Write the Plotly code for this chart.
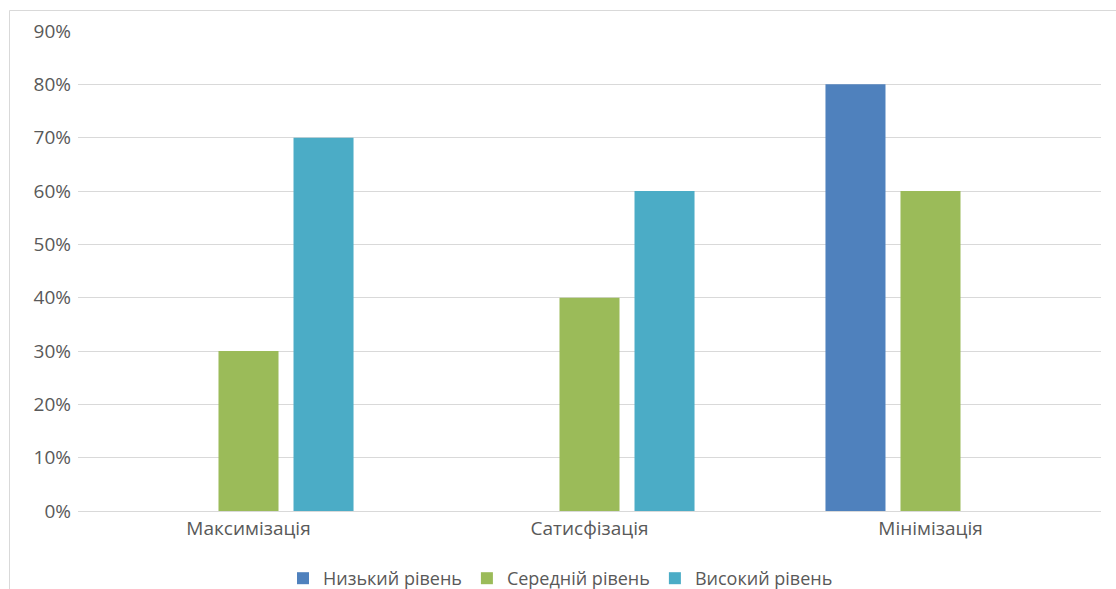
import plotly.graph_objects as go

categories = ["Максимізація", "Сатисфізація", "Мінімізація"]
series_names = ["Низький рівень", "Середній рівень", "Високий рівень"]
low_level = [0.0, 0.0, 0.80]
mid_level = [0.30, 0.40, 0.60]
high_level = [0.70, 0.60, 0.0]
colors = ["#4F81BD", "#9BBB59", "#4BACC6"]
y_ticks = [0.0, 0.1, 0.2, 0.3, 0.4, 0.5, 0.6, 0.7, 0.8, 0.9]

W, H = 1116, 589
L, R, T, B = 78, 15, 31, 78
pw, ph = W - L - R, H - T - B

font_family = "Open Sans, DejaVu Sans, sans-serif"
text_color = "#595959"
grid_color = "#D9D9D9"
fs = 19

fig = go.Figure()
for name, vals, col in zip(series_names, [low_level, mid_level, high_level], colors):
    fig.add_trace(go.Bar(x=categories, y=vals, name=name, marker=dict(color=col, line=dict(width=0))))

def px_x(p):
    return (p - L) / pw

def px_y(p):
    return (H - B - p) / ph

# chart-area border
fig.add_shape(type="rect", xref="paper", yref="paper",
              x0=px_x(9.5), x1=px_x(1121), y0=px_y(10.5), y1=px_y(600),
              line=dict(color=grid_color, width=1), fillcolor="rgba(0,0,0,0)", layer="below")

fig.update_layout(
    width=W, height=H,
    margin=dict(l=L, r=R, t=T, b=B, autoexpand=False),
    paper_bgcolor="white", plot_bgcolor="white",
    barmode="group", bargap=0.34, bargroupgap=0.2,
    font=dict(family=font_family, size=fs, color=text_color),
    showlegend=True,
    legend=dict(orientation="h", x=px_x(283), xanchor="left", y=px_y(578.5), yanchor="middle",
                font=dict(size=18, color=text_color), itemwidth=30, traceorder="normal"),
    xaxis=dict(showgrid=False, showline=True, linecolor=grid_color, linewidth=1,
               ticks="", tickfont=dict(size=fs, color=text_color), zeroline=False),
    yaxis=dict(range=[0, 0.9], tickvals=y_ticks, tickformat=".0%", showgrid=True,
               gridcolor=grid_color, gridwidth=1, zeroline=False, showline=False,
               ticks="", tickfont=dict(size=fs, color=text_color), ticklabelstandoff=6),
)

fig.write_html("out.html")
